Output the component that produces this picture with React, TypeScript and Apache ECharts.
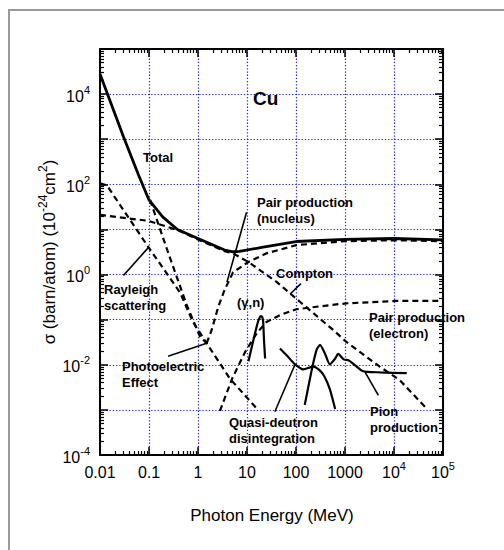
import { useEffect, useRef } from "react";
import * as echarts from "echarts";

// Photon energy (MeV) against cross-section (barn/atom) for each interaction in copper
const totalE = [0.01, 0.03, 0.06, 0.1, 0.19, 0.38, 1.0, 3.5, 5.2, 7.0, 20, 100, 1000, 10000, 100000];
const totalSigma = [28000, 1150, 170, 45, 19, 10, 6.3, 3.5, 3.2, 3.25, 4.0, 5.4, 6.0, 6.3, 5.9];

const comptonE = [0.01, 0.098, 0.4, 1.0, 3.5, 5.2, 10.7, 40, 120, 575, 1070, 5100, 13000, 43000];
const comptonSigma = [21, 15.5, 9.5, 6.0, 3.3, 2.95, 1.9, 0.69, 0.25, 0.059, 0.032, 0.0091, 0.0046, 0.00117];

const rayleighE = [0.01, 0.0138, 0.098, 0.2, 0.43, 0.79, 1.5];
const rayleighSigma = [105, 95, 4.0, 1.32, 0.4, 0.089, 0.03];

const photoE = [0.105, 0.245, 0.59, 1.1, 1.5, 4.5, 15.8];
const photoSigma = [45, 3.1, 0.21, 0.042, 0.03, 0.0049, 0.00107];

const pairNucleusE = [1.5, 1.9, 2.6, 3.5, 5.2, 10.7, 25, 102, 1000, 10000, 100000];
const pairNucleusSigma = [0.03, 0.059, 0.195, 0.46, 1.12, 1.9, 2.95, 4.5, 5.5, 5.75, 5.5];

const pairElectronE = [2.8, 5.0, 9.1, 15.8, 25, 50, 102, 490, 1070, 11200, 100000];
const pairElectronSigma = [0.00095, 0.005, 0.019, 0.05, 0.089, 0.13, 0.17, 0.21, 0.23, 0.26, 0.26];

const gammaNE = [10.7, 13.5, 16.2, 17.8, 19.1, 20.4, 21.4, 22.1, 23.4];
const gammaNSigma = [0.012, 0.035, 0.079, 0.107, 0.12, 0.115, 0.089, 0.04, 0.0138];

const quasiDeuteronE = [47, 66, 93, 141, 224, 302, 380, 490, 630];
const quasiDeuteronSigma = [0.023, 0.0158, 0.0105, 0.0079, 0.0091, 0.0076, 0.0055, 0.0029, 0.00105];

const pionE = [151, 209, 263, 309, 389, 490, 631, 724, 933, 1175, 1480, 2340, 5130, 18200];
const pionSigma = [0.00129, 0.0076, 0.0214, 0.0275, 0.0178, 0.0102, 0.0138, 0.0174, 0.0132, 0.0126, 0.0105, 0.0072, 0.0068, 0.0065];

// Leader lines from the labels to their curves: [energy, sigma] start and end
const rayleighLeader = [[0.03, 0.95], [0.098, 4.0]];
const pairNucleusLeader = [[9.8, 24], [3.9, 0.68]];
const photoLeader = [[0.245, 0.0155], [1.5, 0.03]];
const comptonLeader = [[76, 0.37], [126, 0.63]];
const quasiLeader = [[37, 0.00091], [95, 0.01]];
const pionLeader = [[4800, 0.0021], [2570, 0.0069]];

// Axis tick labels, one per decade ("" leaves a decade unlabelled)
const xTickLabels = ["0.01", "0.1", "1", "10", "100", "1000", "10^4", "10^5"];
const yTickLabels = ["10^-4", "", "10^-2", "", "10^0", "", "10^2", "", "10^4", ""];
const xMinExp = -2;
const xMaxExp = 5;
const yMinExp = -4;
const yMaxExp = 5;

const FONT = "'Liberation Sans', Arial, Helvetica, sans-serif";

function pairs(xs: number[], ys: number[]) {
  return xs.map((x, i) => [x, ys[i]]);
}

function minorValues(lo: number, hi: number) {
  const out: number[] = [];
  for (let e = lo; e < hi; e++) {
    for (let m = 2; m <= 9; m++) out.push(m * Math.pow(10, e));
  }
  return out;
}

function richLabel(s: string) {
  if (!s) return "";
  const i = s.indexOf("^");
  if (i < 0) return `{b|${s}}`;
  return `{b|${s.slice(0, i)}}{s|${s.slice(i + 1)}}`;
}

const tickRich = {
  b: { fontSize: 16, fontFamily: FONT, color: "#000", lineHeight: 20, verticalAlign: "bottom" },
  s: { fontSize: 11, fontFamily: FONT, color: "#000", lineHeight: 12, verticalAlign: "top" },
};

const GRID = { left: 100, top: 49, width: 343, height: 406 };
const gridLine = { show: true, lineStyle: { color: "#1f1fff", type: [1.3, 1.9], width: 1.2 } };

function xAxisBase(position: string) {
  return {
    type: "log",
    logBase: 10,
    min: Math.pow(10, xMinExp),
    max: Math.pow(10, xMaxExp),
    position,
    splitNumber: 7,
  };
}
function yAxisBase(position: string) {
  return {
    type: "log",
    logBase: 10,
    min: Math.pow(10, yMinExp),
    max: Math.pow(10, yMaxExp),
    position,
    splitNumber: 9,
  };
}

const majorLine = { show: true, onZero: false, lineStyle: { color: "#000", width: 2 } };
const majorTick = { show: true, inside: true, length: 8, lineStyle: { color: "#000", width: 1.5 } };
const minorTickOf = (vals: number[]) => ({
  show: true,
  inside: true,
  length: 4,
  customValues: vals,
  lineStyle: { color: "#000", width: 1.2 },
});

export default function App() {
  const ref = useRef<HTMLDivElement>(null);

  useEffect(() => {
    if (!ref.current) return;
    const chart = echarts.init(ref.current, null, { renderer: "svg" });

    const xMinor = minorValues(xMinExp, xMaxExp);
    const yMinor = minorValues(yMinExp, yMaxExp);

    const dashed = (name: string, data: number[][]) => ({
      name,
      type: "line",
      data,
      showSymbol: false,
      silent: true,
      lineStyle: { color: "#000", width: 2.2, type: [6, 4] },
      z: 3,
    });
    const solid = (name: string, data: number[][], width: number, smooth = 0) => ({
      name,
      type: "line",
      data,
      showSymbol: false,
      silent: true,
      smooth,
      lineStyle: { color: "#000", width },
      z: 4,
    });

    const noteText = (x: number, y: number, text: string, size = 13) => ({
      type: "text",
      x,
      y,
      silent: true,
      z: 10,
      style: {
        text,
        fontFamily: FONT,
        fontWeight: "bold",
        fontSize: size,
        lineHeight: 16,
        fill: "#000",
        align: "left",
        verticalAlign: "middle",
      },
    });

    chart.setOption({
      animation: false,
      backgroundColor: "#fff",
      grid: { ...GRID, containLabel: false },
      xAxis: [
        {
          ...xAxisBase("bottom"),
          axisLine: majorLine,
          axisTick: majorTick,
          splitLine: gridLine,
          axisLabel: {
            margin: 5,
            formatter: (v: number) => richLabel(xTickLabels[Math.round(Math.log10(v)) - xMinExp] || ""),
            rich: tickRich,
          },
        },
        {
          ...xAxisBase("bottom"),
          axisLine: { show: false },
          axisTick: minorTickOf(xMinor),
          splitLine: { show: false },
          axisLabel: { show: false },
        },
        {
          ...xAxisBase("top"),
          axisLine: majorLine,
          axisTick: majorTick,
          splitLine: { show: false },
          axisLabel: { show: false },
        },
        {
          ...xAxisBase("top"),
          axisLine: { show: false },
          axisTick: minorTickOf(xMinor),
          splitLine: { show: false },
          axisLabel: { show: false },
        },
      ],
      yAxis: [
        {
          ...yAxisBase("left"),
          axisLine: majorLine,
          axisTick: majorTick,
          splitLine: gridLine,
          axisLabel: {
            margin: 10,
            formatter: (v: number) => richLabel(yTickLabels[Math.round(Math.log10(v)) - yMinExp] || ""),
            rich: tickRich,
          },
        },
        {
          ...yAxisBase("left"),
          axisLine: { show: false },
          axisTick: minorTickOf(yMinor),
          splitLine: { show: false },
          axisLabel: { show: false },
        },
        {
          ...yAxisBase("right"),
          axisLine: majorLine,
          axisTick: majorTick,
          splitLine: { show: false },
          axisLabel: { show: false },
        },
        {
          ...yAxisBase("right"),
          axisLine: { show: false },
          axisTick: minorTickOf(yMinor),
          splitLine: { show: false },
          axisLabel: { show: false },
        },
      ],
      series: [
        dashed("Compton", pairs(comptonE, comptonSigma)),
        dashed("Rayleigh scattering", pairs(rayleighE, rayleighSigma)),
        dashed("Photoelectric Effect", pairs(photoE, photoSigma)),
        dashed("Pair production (nucleus)", pairs(pairNucleusE, pairNucleusSigma)),
        dashed("Pair production (electron)", pairs(pairElectronE, pairElectronSigma)),
        solid("Total", pairs(totalE, totalSigma), 2.8),
        solid("(γ,n)", pairs(gammaNE, gammaNSigma), 2.2, 0.2),
        solid("Quasi-deutron disintegration", pairs(quasiDeuteronE, quasiDeuteronSigma), 2.2, 0.2),
        solid("Pion production", pairs(pionE, pionSigma), 2.2, 0.2),
        solid("leader-rayleigh", rayleighLeader, 1.6),
        solid("leader-pair-nucleus", pairNucleusLeader, 1.6),
        solid("leader-photo", photoLeader, 1.6),
        solid("leader-compton", comptonLeader, 1.6),
        solid("leader-quasi", quasiLeader, 1.6),
        solid("leader-pion", pionLeader, 1.6),
      ],
      graphic: [
        {
          type: "rect",
          silent: true,
          z: -10,
          shape: { x: 9, y: 10, width: 600, height: 600 },
          style: { fill: "none", stroke: "#9a9a9a", lineWidth: 2 },
        },
        noteText(253, 98, "Cu", 19),
        noteText(143, 157, "Total"),
        noteText(257, 210, "Pair production\n(nucleus)"),
        noteText(276, 273.5, "Compton"),
        noteText(104, 297, "Rayleigh\nscattering"),
        noteText(237, 302, "(γ,n)"),
        noteText(369, 325, "Pair production\n(electron)"),
        noteText(122, 374, "Photoelectric\nEffect"),
        noteText(229, 430.5, "Quasi-deutron\ndisintegration"),
        noteText(370, 419, "Pion\nproduction"),
        {
          type: "text",
          x: 272,
          y: 515,
          silent: true,
          style: {
            text: "Photon Energy (MeV)",
            fontFamily: FONT,
            fontSize: 17,
            fill: "#000",
            align: "center",
            verticalAlign: "middle",
          },
        },
        {
          type: "text",
          x: 47,
          y: 252,
          rotation: Math.PI / 2,
          silent: true,
          style: {
            text: "{a|σ (barn/atom) (10}{s|-24}{a|cm}{s|2}{a|)}",
            align: "center",
            verticalAlign: "middle",
            rich: {
              a: { fontSize: 17, fontFamily: FONT, fill: "#000", lineHeight: 21, verticalAlign: "bottom" },
              s: { fontSize: 12, fontFamily: FONT, fill: "#000", lineHeight: 12, verticalAlign: "top" },
            },
          },
        },
      ],
    });

    return () => chart.dispose();
  }, []);

  return (
    <div
      ref={ref}
      style={{ position: "absolute", left: 0, top: 0, width: 504, height: 550, background: "#fff" }}
    />
  );
}
